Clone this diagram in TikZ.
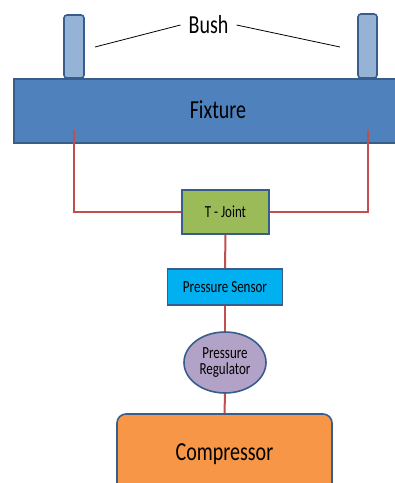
\documentclass[tikz,border=0pt]{standalone}
\usepackage{fontspec}
\setmainfont{Carlito}
\usepackage{graphicx}
\usetikzlibrary{shapes.geometric}
\definecolor{edgeblue}{RGB}{56,93,138}
\definecolor{fixblue}{RGB}{79,129,189}
\definecolor{bushblue}{RGB}{149,179,215}
\definecolor{jointgreen}{RGB}{155,187,89}
\definecolor{sensorcyan}{RGB}{0,176,240}
\definecolor{reglilac}{RGB}{179,162,199}
\definecolor{comporange}{RGB}{247,150,70}
\definecolor{pipered}{RGB}{192,80,77}

\newcommand{\tall}[1]{\scalebox{1}[1.3]{#1}}

\tikzset{
    part/.style={draw=edgeblue, line width=1.6pt, inner sep=0pt},
    pipe/.style={draw=pipered, line width=2pt},
    bigtext/.style={font=\fontsize{20}{22}\selectfont},
    smalltext/.style={font=\fontsize{13}{15}\selectfont},
}

\begin{document}
\begin{tikzpicture}[x=1pt, y=-1pt]
\useasboundingbox (0,0) rectangle (395,483);
\clip (0,0) rectangle (395,483);

% fixture with the two bushes
\node[part, fill=fixblue, minimum width=408, minimum height=64, bigtext] (fixture) at (218,111) {\raisebox{3pt}{\tall{Fixture}}};
\node[part, fill=bushblue, rounded corners=3pt, minimum width=20, minimum height=63] (bushL) at (74,46.5) {};
\node[part, fill=bushblue, rounded corners=3pt, minimum width=19, minimum height=64] (bushR) at (367.5,46) {};
\node[bigtext, inner sep=8pt] (bush) at (208.5,25) {\tall{Bush}};
\coordinate (tipL) at (95,47);
\coordinate (tipR) at (340,47);
\draw[line width=0.8pt] (bush.west) -- (tipL);
\draw[line width=0.8pt] (bush.east) -- (tipR);

% air line
\node[part, fill=jointgreen, minimum width=87, minimum height=44, smalltext] (tjoint) at (225.5,212) {\tall{T - Joint}};
\node[part, fill=sensorcyan, minimum width=115, minimum height=36, smalltext] (sensor) at (225,287) {\tall{Pressure Sensor}};
\node[part, ellipse, fill=reglilac, minimum width=82, minimum height=61, smalltext, align=center] (regulator) at (225,362.5) {\tall{Pressure}\\[1pt]\tall{Regulator}};
\node[part, fill=comporange, rounded corners=9pt, minimum width=215, minimum height=100, bigtext] (compressor) at (224.5,464) {\raisebox{4pt}[0pt][0pt]{\tall{Compressor}}};

\coordinate (portL) at (74,130);
\coordinate (portR) at (368,130);
\draw[pipe] (portL) |- (tjoint.west);
\draw[pipe] (portR) |- (tjoint.east);
\draw[pipe] (tjoint.south) -- (sensor.north);
\draw[pipe] (sensor.south) -- (regulator.north);
\draw[pipe] (regulator.south) -- (compressor.north);
\end{tikzpicture}
\end{document}
